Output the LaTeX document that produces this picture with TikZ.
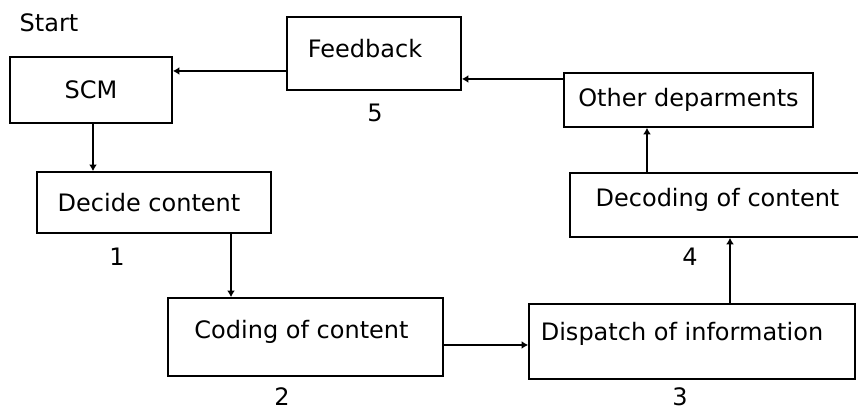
\documentclass[tikz,border=0pt]{standalone}
\usepackage{fontspec}
\setmainfont{DejaVu Sans}
\usetikzlibrary{arrows.meta,positioning}

\begin{document}
\begin{tikzpicture}[x=0.5pt, y=-0.5pt, line width=1pt,
    font=\fontsize{12pt}{14pt}\selectfont,
    blk/.style={draw, inner sep=0pt, text height=9pt, text depth=0.2pt},
    arr/.style={-{Latex[length=3.2pt,width=4pt]}}]
    \fill[white] (0,0) rectangle (858,410);
    \useasboundingbox (0,0) rectangle (858,410);
    \clip (0,0) rectangle (858,410);

    \node (start) at (49,23) {Start};
    \node[blk, minimum width=81pt, minimum height=33pt] (scm) at (91,90) {SCM};
    \node[blk, minimum width=87pt, minimum height=36.5pt, text depth=5.2pt] (feedback) at (374,53.5) {Feedback\hspace*{9pt}};
    \node[blk, minimum width=124.5pt, minimum height=27pt, text depth=2.2pt] (other) at (688.5,100) {Other deparments};
    \node[blk, minimum width=147.5pt, minimum height=32pt, text depth=7.2pt] (decoding) at (717.5,205) {Decoding of content};
    \node[blk, minimum width=117pt, minimum height=30.5pt] (decide) at (154,202.5) {Decide content\hspace*{5pt}};
    \node[blk, minimum width=137.5pt, minimum height=39pt, text depth=7.2pt] (coding) at (305.5,337) {Coding of content\hspace*{4pt}};
    \node[blk, minimum width=163pt, minimum height=37.5pt, text depth=10.2pt] (dispatch) at (692,341.5) {Dispatch of information\hspace*{10pt}};

    \node (n1) at (117,257) {1};
    \node (n2) at (282,397) {2};
    \node (n3) at (680,397) {3};
    \node (n4) at (690,257) {4};
    \node (n5) at (375,113) {5};

    \draw[arr] (scm.south) ++(2,0) coordinate (a) -- (decide.north -| a);
    \draw[arr] (decide.south) ++(77,0) coordinate (b) -- (coding.north -| b);
    \draw[arr] (coding.east) ++(0,8) coordinate (c) -- (dispatch.west |- c);
    \draw[arr] (dispatch.north) ++(38,0) coordinate (d) -- (decoding.south -| d);
    \draw[arr] (decoding.north) ++(-70.5,0) coordinate (e) -- (other.south -| e);
    \draw[arr] (other.west) ++(0,-21) coordinate (f) -- (feedback.east |- f);
    \draw[arr] (feedback.west) ++(0,17.5) coordinate (g) -- (scm.east |- g);
\end{tikzpicture}
\end{document}
